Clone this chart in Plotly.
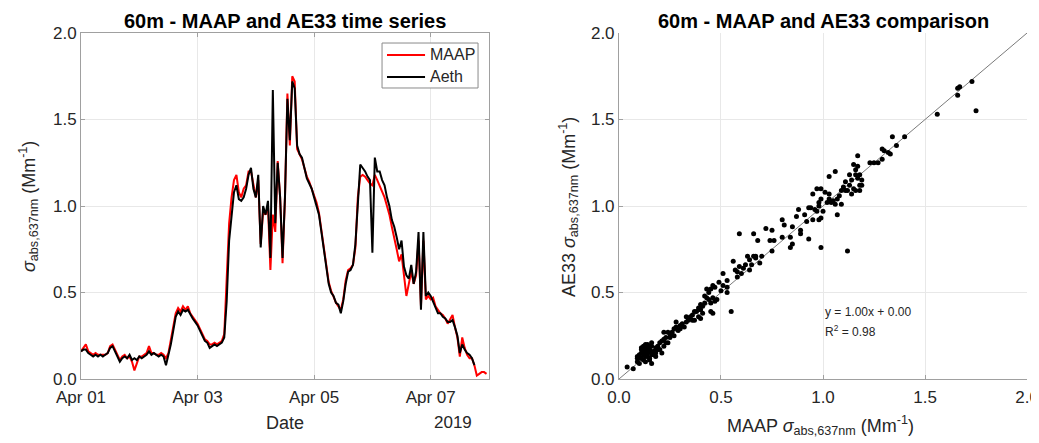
import pandas as pd
import plotly.graph_objects as go

# ---------------- data ----------------
start_time = "2019-04-01 00:00"
n_hours = 168

aeth_ts = [
    # Apr 01
    0.16, 0.17, 0.17, 0.15, 0.14, 0.13, 0.14, 0.13, 0.14, 0.13, 0.14, 0.15,
    0.18, 0.19, 0.16, 0.13, 0.10, 0.12, 0.13, 0.12, 0.14, 0.11, 0.12, 0.11,
    # Apr 02
    0.13, 0.12, 0.13, 0.14, 0.16, 0.14, 0.15, 0.14, 0.13, 0.14, 0.13, 0.08,
    0.14, 0.20, 0.28, 0.36, 0.39, 0.37, 0.40, 0.39, 0.40, 0.37, 0.35, 0.33,
    # Apr 03
    0.31, 0.28, 0.25, 0.22, 0.21, 0.18, 0.19, 0.20, 0.19, 0.20, 0.21, 0.24,
    0.45, 0.80, 0.95, 1.08, 1.12, 1.04, 1.03, 1.05, 1.10, 1.18, 1.22, 1.10,
    # Apr 04
    1.05, 1.18, 0.76, 1.00, 0.95, 1.03, 0.70, 1.67, 0.90, 1.25, 1.05, 0.70,
    1.05, 1.62, 1.38, 1.72, 1.68, 1.35, 1.30, 1.28, 1.22, 1.16, 1.13, 1.10,
    # Apr 05
    1.05, 1.00, 0.95, 0.85, 0.75, 0.62, 0.55, 0.50, 0.48, 0.44, 0.43, 0.38,
    0.45, 0.55, 0.62, 0.63, 0.66, 0.78, 1.00, 1.24, 1.22, 1.20, 1.17, 1.15,
    # Apr 06
    0.73, 1.28, 1.20, 1.20, 1.15, 1.12, 1.05, 1.00, 0.92, 0.88, 0.82, 0.75,
    0.80, 0.65, 0.60, 0.58, 0.66, 0.55, 0.62, 0.85, 0.40, 0.85, 0.48, 0.50,
    # Apr 07
    0.48, 0.45, 0.42, 0.38, 0.38, 0.36, 0.35, 0.33, 0.33, 0.34, 0.30, 0.25,
    0.15, 0.20, 0.17, 0.15, 0.14, 0.12, 0.08, None, None, None, None, None,
]

maap_ts = [
    # Apr 01
    0.16, 0.18, 0.20, 0.16, 0.15, 0.14, 0.15, 0.14, 0.14, 0.14, 0.14, 0.15,
    0.19, 0.20, 0.17, 0.14, 0.11, 0.13, 0.14, 0.12, 0.13, 0.10, 0.05, 0.09,
    # Apr 02
    0.13, 0.13, 0.14, 0.15, 0.19, 0.15, 0.15, 0.14, 0.14, 0.15, 0.14, 0.12,
    0.15, 0.22, 0.29, 0.38, 0.41, 0.39, 0.42, 0.40, 0.42, 0.38, 0.36, 0.34,
    # Apr 03
    0.32, 0.29, 0.26, 0.23, 0.22, 0.20, 0.20, 0.21, 0.20, 0.21, 0.22, 0.26,
    0.55, 0.90, 1.05, 1.15, 1.18, 1.08, 1.05, 1.10, 1.12, 1.20, 1.20, 1.12,
    # Apr 04
    1.05, 1.15, 0.78, 0.97, 0.95, 1.00, 0.63, 0.95, 0.85, 1.26, 1.05, 0.67,
    1.05, 1.65, 1.35, 1.75, 1.72, 1.33, 1.30, 1.27, 1.22, 1.17, 1.14, 1.10,
    # Apr 05
    1.06, 1.02, 0.96, 0.86, 0.76, 0.63, 0.56, 0.51, 0.47, 0.44, 0.42, 0.40,
    0.46, 0.57, 0.63, 0.64, 0.66, 0.76, 1.05, 1.17, 1.18, 1.17, 1.15, 1.13,
    # Apr 06
    1.12, 1.18, 1.15, 1.12, 1.08, 1.05, 1.00, 0.95, 0.88, 0.82, 0.75, 0.68,
    0.72, 0.60, 0.48, 0.55, 0.62, 0.55, 0.60, 0.80, 0.42, 0.80, 0.46, 0.48,
    # Apr 07
    0.46, 0.47, 0.42, 0.40, 0.38, 0.37, 0.35, 0.32, 0.35, 0.37, 0.30, 0.24,
    0.13, 0.24, 0.18, 0.14, 0.12, 0.12, 0.08, 0.02, 0.03, 0.04, 0.04, 0.03,
]

# scatter comparison (MAAP on x, AE33 on y), paired row by row
maap_sc = [
    1.73, 1.75, 1.66, 1.66, 1.67, 1.56, 1.40, 1.34, 1.36, 1.33,
    1.32, 1.29, 1.30, 1.29, 1.25, 1.27, 1.23, 1.17, 1.17, 1.16,
    1.18, 1.16, 1.14, 1.19, 1.18, 1.13, 1.15, 1.16, 1.18, 1.12,
    1.11, 1.09, 1.08, 1.07, 1.05, 1.04, 1.06, 1.09, 1.07, 1.13,
    1.11, 1.15, 1.03, 1.06, 0.99, 0.97, 0.95, 0.99, 0.98, 0.94,
    0.98, 0.97, 0.95, 0.98, 0.92, 0.99, 1.01, 1.03, 1.02, 1.03,
    0.88, 0.87, 0.91, 0.85, 0.80, 0.81, 0.84, 0.89, 0.89, 0.93,
    0.99, 1.12, 0.85, 0.84, 0.80, 0.76, 0.74, 0.75, 0.72, 0.75,
    0.59, 0.66, 0.68, 0.63, 0.66, 0.67, 0.69, 0.64, 0.62, 0.61,
    0.59, 0.58, 0.60, 0.56, 0.58, 0.53, 0.51, 0.49, 0.51, 0.53,
    0.53, 0.50, 0.55, 0.46, 0.45, 0.44, 0.46, 0.47, 0.43, 0.42,
    0.45, 0.46, 0.40, 0.40, 0.41, 0.38, 0.36, 0.39, 0.40, 0.36,
    0.34, 0.33, 0.31, 0.30, 0.28, 0.30, 0.27, 0.26, 0.25, 0.27,
    0.23, 0.22, 0.22, 0.24, 0.20, 0.19, 0.22, 0.18, 0.16, 0.15,
    0.13, 0.13, 0.14, 0.12, 0.10, 0.11, 0.09, 0.11, 0.13, 0.16,
    0.17, 0.15, 0.13, 0.10, 0.09, 0.07, 0.04, 0.18, 0.18, 0.14,
    0.13, 0.09, 0.11, 0.16, 0.20, 0.21, 0.42, 0.43, 0.45, 0.28,
    0.33, 0.57, 0.64, 0.65, 0.12, 0.14, 0.15, 0.12, 0.14, 0.16,
    0.17, 0.11, 0.13, 0.15, 0.19, 0.12, 0.14, 0.16, 0.10, 0.18,
    0.21, 0.23, 0.25, 0.24, 0.29, 0.32, 0.35, 0.37, 0.39, 0.41,
    0.44, 0.47, 0.48, 0.37, 0.96, 1.00, 0.93, 1.10, 1.14, 1.17,
    1.19, 0.67, 0.70,
]
ae33_sc = [
    1.72, 1.55, 1.64, 1.68, 1.69, 1.53, 1.40, 1.40, 1.35, 1.30,
    1.31, 1.33, 1.32, 1.27, 1.25, 1.25, 1.25, 1.29, 1.23, 1.21,
    1.18, 1.18, 1.15, 1.15, 1.12, 1.12, 1.10, 1.09, 1.09, 1.09,
    1.09, 1.09, 1.06, 1.04, 1.03, 1.02, 1.01, 1.01, 0.95, 1.18,
    1.14, 1.24, 1.17, 1.20, 1.10, 1.10, 1.07, 1.04, 1.02, 0.99,
    1.00, 0.97, 0.92, 0.92, 0.91, 0.93, 1.08, 1.07, 1.02, 1.04,
    0.98, 0.94, 0.95, 0.88, 0.92, 0.89, 0.82, 0.84, 0.86, 0.81,
    0.76, 0.74, 0.78, 0.76, 0.82, 0.80, 0.80, 0.74, 0.87, 0.86,
    0.84, 0.84, 0.80, 0.71, 0.71, 0.71, 0.67, 0.69, 0.66, 0.64,
    0.65, 0.62, 0.61, 0.68, 0.59, 0.57, 0.61, 0.56, 0.54, 0.53,
    0.50, 0.51, 0.39, 0.54, 0.52, 0.50, 0.47, 0.45, 0.47, 0.44,
    0.44, 0.38, 0.43, 0.40, 0.38, 0.39, 0.37, 0.36, 0.35, 0.34,
    0.34, 0.33, 0.32, 0.31, 0.30, 0.29, 0.29, 0.27, 0.26, 0.25,
    0.24, 0.27, 0.23, 0.21, 0.21, 0.19, 0.19, 0.18, 0.21, 0.17,
    0.18, 0.16, 0.15, 0.15, 0.14, 0.17, 0.12, 0.12, 0.13, 0.14,
    0.16, 0.11, 0.10, 0.09, 0.10, 0.06, 0.07, 0.13, 0.15, 0.19,
    0.20, 0.13, 0.18, 0.09, 0.17, 0.15, 0.48, 0.52, 0.39, 0.33,
    0.36, 0.63, 0.63, 0.66, 0.14, 0.13, 0.16, 0.11, 0.18, 0.15,
    0.14, 0.15, 0.17, 0.12, 0.17, 0.19, 0.20, 0.19, 0.12, 0.16,
    0.22, 0.21, 0.24, 0.27, 0.28, 0.30, 0.36, 0.34, 0.41, 0.42,
    0.46, 0.53, 0.46, 0.39, 0.98, 0.97, 0.99, 1.11, 1.07, 1.16,
    1.12, 0.70, 0.71,
]

fit_slope = 1.00
fit_intercept = 0.00
fit_r2 = 0.98

series_names = ["MAAP", "Aeth"]
series_colors = ["#ff0000", "#000000"]

date_ticks = ["2019-04-01", "2019-04-03", "2019-04-05", "2019-04-07"]
date_ticktext = ["Apr 01", "Apr 03", "Apr 05", "Apr 07"]
val_ticks = [0.0, 0.5, 1.0, 1.5, 2.0]

# ---------------- figure ----------------
times = pd.date_range(start_time, periods=n_hours, freq="h")

FONT = "Liberation Sans, Arial, Helvetica, sans-serif"
TXT = "#262626"
AXC = "#a0a0a0"
GRID = "#e8e8e8"

fig = go.Figure()
for name, col, vals in zip(series_names, series_colors, [maap_ts, aeth_ts]):
    fig.add_trace(go.Scatter(x=times, y=vals, mode="lines", name=name,
                             line=dict(color=col, width=2), xaxis="x", yaxis="y"))

fit_x = [0.0, 2.0]
fit_y = [fit_slope * v + fit_intercept for v in fit_x]
fig.add_trace(go.Scatter(x=fit_x, y=fit_y, mode="lines", showlegend=False,
                         line=dict(color="#7a7a7a", width=1), xaxis="x2", yaxis="y2"))
fig.add_trace(go.Scatter(x=maap_sc, y=ae33_sc, mode="markers", showlegend=False,
                         marker=dict(color="#000000", size=5), xaxis="x2", yaxis="y2"))

common = dict(showgrid=True, gridcolor=GRID, gridwidth=1, showline=True, linecolor=AXC,
              linewidth=1, ticks="inside", ticklen=4, tickcolor=AXC, zeroline=False,
              automargin=False,
              tickfont=dict(family=FONT, size=17, color=TXT))

# page body has an 8px margin, so the figure is sized to fit the window after that offset
fig.update_layout(
    template="none",
    width=1031, height=435,
    margin=dict(l=0, r=0, t=0, b=0, autoexpand=False),
    paper_bgcolor="white", plot_bgcolor="white",
    font=dict(family=FONT, color=TXT),
    xaxis=dict(domain=[0.0708, 0.4665], type="date",
               range=["2019-04-01 00:00", "2019-04-08 00:00"],
               tickvals=date_ticks, ticktext=date_ticktext, mirror="ticks",
               ticklabelstandoff=3, anchor="y", **common),
    yaxis=dict(domain=[0.1471, 0.9425], range=[0, 2], tickvals=val_ticks,
               tickformat=".1f", mirror="ticks", anchor="x", **common),
    xaxis2=dict(domain=[0.5926, 0.9884], range=[0, 2], tickvals=val_ticks,
                tickformat=".1f", ticklabelstandoff=3, anchor="y2", **common),
    yaxis2=dict(domain=[0.1471, 0.9425], range=[0, 2], tickvals=val_ticks,
                tickformat=".1f", anchor="x2", **common),
    showlegend=False,
)

# legend box drawn in paper coordinates (MATLAB style: compact box)
leg_x0, leg_x1, leg_y0, leg_y1 = 0.3628, 0.4559, 0.8161, 0.9195
leg_rows = [0.892, 0.8414]
shapes = [dict(type="rect", xref="paper", yref="paper", x0=leg_x0, x1=leg_x1,
               y0=leg_y0, y1=leg_y1, fillcolor="white", line=dict(color="#8a8a8a", width=1))]
for col, ry in zip(series_colors, leg_rows):
    shapes.append(dict(type="line", xref="paper", yref="paper", x0=0.3676, x1=0.4045,
                       y0=ry, y1=ry, line=dict(color=col, width=2)))
fig.update_layout(shapes=shapes)
for name, ry in zip(series_names, leg_rows):
    fig.add_annotation(text=name, x=0.4074, y=ry, xref="paper", yref="paper",
                       xanchor="left", yanchor="middle", showarrow=False,
                       font=dict(family=FONT, size=16, color=TXT))

ann = [
    dict(text="<b>60m - MAAP and AE33 time series</b>", x=0.2687, y=0.970,
         font=dict(size=20, color="#000")),
    dict(text="<b>60m - MAAP and AE33 comparison</b>", x=0.7905, y=0.970,
         font=dict(size=20, color="#000")),
    dict(text="Date", x=0.2687, y=0.046, font=dict(size=18, color=TXT)),
    dict(text="2019", x=0.4316, y=0.046, font=dict(size=17, color=TXT)),
    dict(text="<i>σ</i><sub>abs,637nm</sub> (Mm<sup>-1</sup>)", x=0.0194, y=0.5425,
         textangle=-90, font=dict(size=18, color=TXT)),
    dict(text="AE33 <i>σ</i><sub>abs,637nm</sub> (Mm<sup>-1</sup>)", x=0.5432, y=0.5425,
         textangle=-90, font=dict(size=18, color=TXT)),
    dict(text="MAAP <i>σ</i><sub>abs,637nm</sub> (Mm<sup>-1</sup>)", x=0.7876, y=0.040,
         font=dict(size=18, color=TXT)),
]
for a in ann:
    a.update(xref="paper", yref="paper", showarrow=False, xanchor="center", yanchor="middle")
    a["font"]["family"] = FONT
    fig.add_annotation(**a)

fig.add_annotation(text=f"y = {fit_slope:.2f}x + {fit_intercept:.2f}", x=1.0, y=0.387,
                   xref="x2", yref="y2", xanchor="left", yanchor="middle", showarrow=False,
                   font=dict(family=FONT, size=12, color=TXT))
fig.add_annotation(text=f"R<sup>2</sup> = {fit_r2:.2f}", x=1.0, y=0.28,
                   xref="x2", yref="y2", xanchor="left", yanchor="middle", showarrow=False,
                   font=dict(family=FONT, size=12, color=TXT))

fig.write_html("out.html")
